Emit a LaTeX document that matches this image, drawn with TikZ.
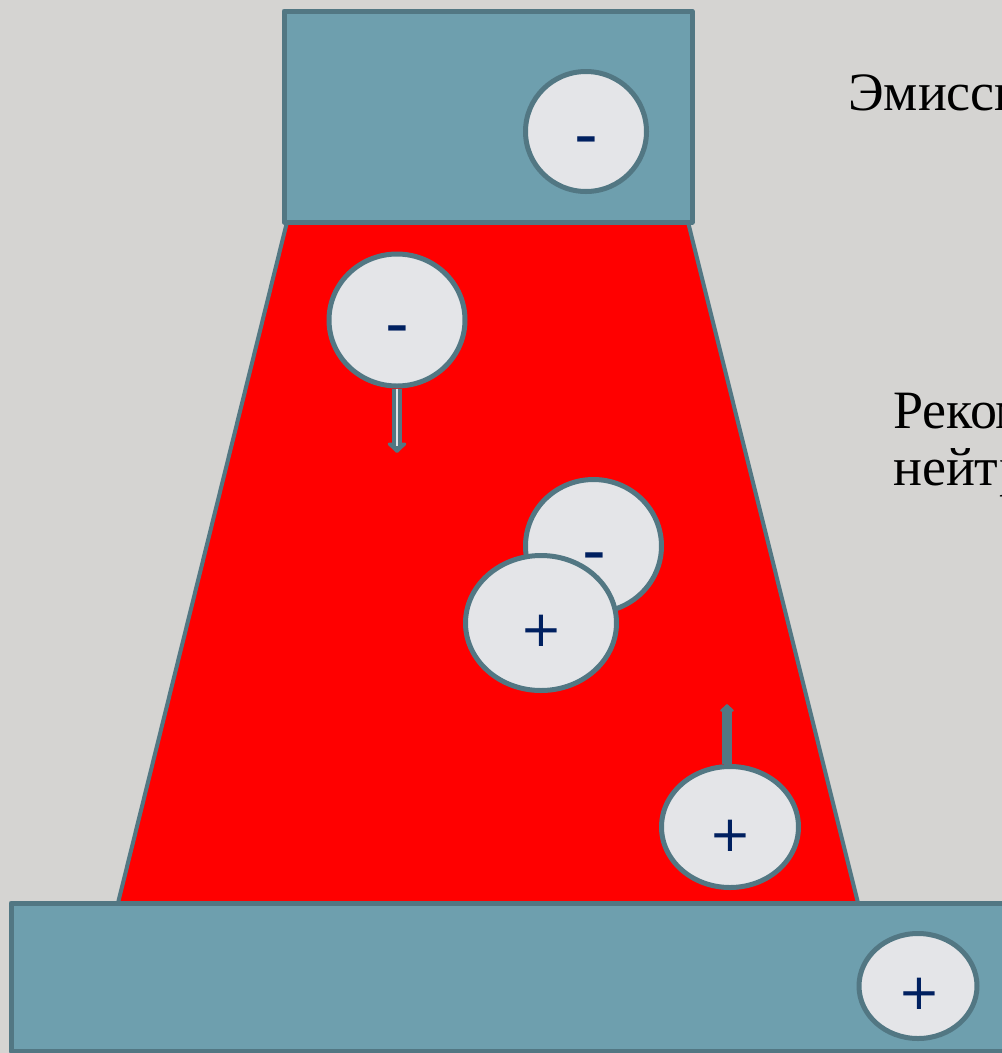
\documentclass[tikz,border=0pt]{standalone}
\usepackage{fontspec}
\setmainfont{Liberation Serif}
\newfontfamily\signfont{DejaVu Sans}
\usetikzlibrary{shapes.geometric,arrows.meta}
\definecolor{bgc}{RGB}{213,212,210}
\definecolor{boxc}{RGB}{110,159,174}
\definecolor{edgec}{RGB}{82,119,131}
\definecolor{ballc}{RGB}{228,229,232}
\definecolor{signc}{RGB}{0,32,96}
\tikzset{
  plate/.style={draw=edgec, fill=boxc, line width=5pt, line join=round},
  plasma/.style={draw=edgec, fill=red, line width=4pt, line join=round},
  ball/.style={ellipse, draw=edgec, fill=ballc, line width=5pt, inner sep=0pt},
  plussign/.style={font=\signfont\fontsize{50}{50}\selectfont, text=signc, inner sep=0pt, anchor=center},
  minussign/.style={font=\signfont\fontsize{66}{66}\selectfont, text=signc, inner sep=0pt, anchor=base},
  label/.style={font=\fontsize{54}{57}\selectfont, text=black, inner sep=0pt, anchor=base west},
  shaft/.style={draw=edgec, line width=10pt},
}
\begin{document}
\begin{tikzpicture}[x=1pt,y=-1pt]
\clip (0,0) rectangle (1002,1053);
\fill[bgc] (0,0) rectangle (1002,1053);
% plasma trapezoid
\draw[plasma] (287,222) -- (688,222) -- (858,903) -- (118,903) -- cycle;
% electrodes
\draw[plate] (284,11) rectangle (692,222);
\draw[plate] (11,903) rectangle (1020,1051);
% particles
\node[ball, minimum width=121pt, minimum height=120pt] (c1) at (586,131.5) {};
\node[minussign] (s1) at (586,157) {-};
\node[ball, minimum width=136pt, minimum height=132pt] (c2) at (397,320) {};
\node[minussign] (s2) at (397,346) {-};
\node[ball, minimum width=136pt, minimum height=133pt] (c3) at (593.5,546) {};
\node[minussign] (s3) at (594,573) {-};
\node[ball, minimum width=151pt, minimum height=135pt] (c4) at (541,623) {};
\node[plussign] (s4) at (541,631) {+};
\node[ball, minimum width=137pt, minimum height=121pt] (c5) at (730,827) {};
\node[plussign] (s5) at (730,836) {+};
\node[ball, minimum width=118pt, minimum height=105pt] (c6) at (918,986) {};
\node[plussign] (s6) at (919,994) {+};
% arrows
\coordinate (tipDown) at (397,453);
\coordinate (innerEnd) at (397,446);
\coordinate (tipUp) at (727,704);
\draw[shaft, -{Triangle[width=22pt,length=11pt,round]}] (c2.south) -- (tipDown);
\draw[ballc, line width=2pt] (c2.south) -- (innerEnd);
\draw[shaft, -{Triangle[width=16pt,length=8pt,round]}] (tipUp |- c5.north) -- (tipUp);
% labels
\node[label] (t1) at (848,110) {Эмиссия электронов};
\node[label] (t2) at (893,428) {Рекомбинация,};
\node[label] (t3) at (893,485) {нейтрализация};
\end{tikzpicture}
\end{document}
